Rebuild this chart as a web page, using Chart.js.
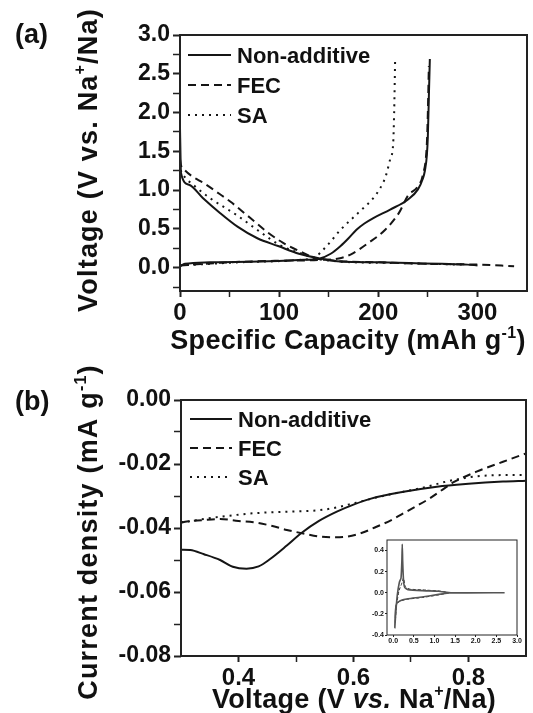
<!DOCTYPE html>
<html>
<head>
<meta charset="utf-8">
<script src="https://cdn.jsdelivr.net/npm/chart.js@4.4.1/dist/chart.umd.min.js"></script>
<style>
  html, body { margin: 0; padding: 0; background: #fff; }
  #wrap { position: relative; width: 533px; height: 713px; overflow: hidden; background: #fff; }
  canvas { position: absolute; left: 0; }
  #chartA { top: 0; }
  #chartB { top: 360px; }
  #inset { left: 355px; top: 530px; }
</style>
</head>
<body>
<div id="wrap">
  <canvas id="chartA" width="533" height="360"></canvas>
  <canvas id="chartB" width="533" height="353"></canvas>
  <canvas id="inset" width="175" height="118"></canvas>
</div>
<script>
// ---- (a) charge / discharge profiles: [capacity mAh/g, voltage V]
const naDischarge = [[0,1.80],[0.5,1.45],[1,1.22],[9,1.07],[23,0.90],[40,0.71],[58,0.53],[78,0.38],[99,0.28],[120,0.18],[141,0.12],[162,0.08],[200,0.07],[231,0.06],[264,0.05],[290,0.04],[300,0.03]];
const naCharge = [[0,0.02],[5,0.05],[30,0.07],[80,0.08],[120,0.10],[141,0.12],[152,0.18],[162,0.28],[170,0.38],[178,0.49],[186,0.57],[195,0.64],[212,0.75],[230,0.88],[240,1.01],[245,1.15],[247,1.25],[249,1.45],[250,1.70],[251,2.20],[252,2.69]];
const fecDischarge = [[0,1.40],[1,1.32],[4,1.27],[12,1.18],[24,1.09],[40,0.95],[51,0.85],[71,0.64],[88,0.46],[104,0.32],[121,0.21],[138,0.12],[155,0.09],[200,0.07],[250,0.05],[300,0.04],[337,0.02]];
const fecCharge = [[0,0.03],[50,0.07],[100,0.09],[140,0.10],[160,0.12],[172,0.17],[190,0.32],[207,0.49],[221,0.71],[230,0.93],[240,1.05],[245,1.20],[249,1.60],[250,2.00],[251,2.60]];
const saDischarge = [[0,1.35],[1,1.25],[3,1.20],[15,1.05],[30,0.90],[57,0.68],[81,0.46],[101,0.29],[125,0.17],[137,0.12],[160,0.08],[220,0.06],[285,0.04]];
const saCharge = [[0,0.03],[60,0.07],[120,0.10],[135,0.13],[148,0.28],[162,0.49],[180,0.71],[197,0.93],[205,1.10],[208,1.20],[212,1.40],[215,1.60],[216,2.00],[217,2.69]];

const capTicks = [0, 50, 100, 150, 200, 250, 300];
const capLabels = [0, 100, 200, 300];
const voltTicks = [-0.25, 0, 0.25, 0.5, 0.75, 1, 1.25, 1.5, 1.75, 2, 2.25, 2.5, 2.75, 3];
const voltLabels = [0, 0.5, 1, 1.5, 2, 2.5, 3];

// ---- (b) CV cathodic scan: [voltage V, current mA/g]
const naCv = [[0.30,-0.0468],[0.316,-0.0469],[0.34,-0.0482],[0.368,-0.0500],[0.39,-0.0521],[0.414,-0.0527],[0.435,-0.0520],[0.455,-0.0497],[0.484,-0.0455],[0.51,-0.0415],[0.54,-0.0378],[0.571,-0.0349],[0.60,-0.0327],[0.629,-0.0309],[0.687,-0.0287],[0.745,-0.0271],[0.80,-0.0262],[0.86,-0.0255],[0.90,-0.0252]];
const fecCv = [[0.30,-0.0383],[0.31,-0.0380],[0.34,-0.0375],[0.368,-0.0372],[0.40,-0.0378],[0.426,-0.0382],[0.455,-0.0392],[0.484,-0.0406],[0.515,-0.0418],[0.542,-0.0427],[0.565,-0.0429],[0.588,-0.0427],[0.615,-0.0415],[0.64,-0.0396],[0.665,-0.0376],[0.687,-0.0354],[0.71,-0.0331],[0.733,-0.0307],[0.755,-0.0280],[0.774,-0.0257],[0.814,-0.0224],[0.86,-0.0193],[0.90,-0.0167]];
const saCv = [[0.30,-0.0382],[0.31,-0.0380],[0.34,-0.0372],[0.368,-0.0365],[0.426,-0.0354],[0.484,-0.0349],[0.542,-0.0344],[0.57,-0.0336],[0.60,-0.0323],[0.658,-0.0297],[0.716,-0.0276],[0.774,-0.0250],[0.832,-0.0236],[0.90,-0.0234]];

const potTicks = [0.4, 0.5, 0.6, 0.7, 0.8];
const potLabels = [0.4, 0.6, 0.8];
const curTicks = [-0.08, -0.07, -0.06, -0.05, -0.04, -0.03, -0.02, -0.01, 0];
const curLabels = [-0.08, -0.06, -0.04, -0.02, 0];

// ---- inset: full CV loops
const insetNa = [[2.7,0.0],[1.4,0.0],[1.1,-0.015],[0.7,-0.04],[0.36,-0.057],[0.2,-0.07],[0.08,-0.10],[0.05,-0.20],[0.04,-0.33],[0.06,-0.20],[0.1,-0.02],[0.15,0.10],[0.19,0.14],[0.21,0.30],[0.22,0.46],[0.23,0.30],[0.25,0.12],[0.28,0.05],[0.36,0.03],[0.7,0.02],[1.1,0.015],[1.4,0.0],[2.7,0.0]];
const insetFec = [[1.35,0.0],[1.1,-0.02],[0.7,-0.045],[0.36,-0.06],[0.15,-0.08],[0.07,-0.12],[0.05,-0.28],[0.08,-0.12],[0.14,0.02],[0.2,0.08],[0.25,0.14],[0.29,0.06],[0.4,0.035],[0.8,0.025],[1.15,0.015],[1.35,0.0]];
const insetXTicks = [0, 0.5, 1, 1.5, 2, 2.5, 3];
const insetYTicks = [-0.4, -0.2, 0, 0.2, 0.4];

Chart.defaults.font.family = '"Liberation Sans", Arial, sans-serif';
Chart.defaults.font.weight = 'bold';
Chart.defaults.color = '#111';

const INK = '#151515';
const BOLD = '"Liberation Sans", Arial, sans-serif';

function pts(arr) {
  return arr.map(p => ({ x: p[0], y: p[1] }));
}
function joined(dis, chg) {
  return pts(dis).concat([{ x: dis[dis.length - 1][0], y: null }], pts(chg));
}

function axis(o) {
  return {
    type: 'linear',
    min: o.min,
    max: o.max,
    afterFit(s) {
      if (o.width !== undefined) s.width = o.width;
      if (o.height !== undefined) s.height = o.height;
    },
    afterBuildTicks(s) {
      s.ticks = o.ticks.map(v => ({ value: v }));
    },
    grid: {
      drawOnChartArea: false,
      tickLength: o.tickLength,
      tickColor: '#222',
      tickWidth: c => (o.labels.includes(c.tick && c.tick.value) ? o.tickWidth : o.tickWidth * 0.75)
    },
    border: { display: false },
    ticks: {
      autoSkip: false,
      maxRotation: 0,
      padding: o.padding,
      color: '#111',
      font: { size: o.size, weight: 'bold' },
      callback: v => (o.labels.includes(v) ? v.toFixed(o.digits) : '')
    }
  };
}

function drawRich(ctx, segs, cx, cy, rotate, spacing) {
  ctx.save();
  ctx.translate(cx, cy);
  if (rotate) ctx.rotate(-Math.PI / 2);
  ctx.textAlign = 'left';
  ctx.textBaseline = 'alphabetic';
  ctx.fillStyle = '#111';
  ctx.letterSpacing = (spacing || 0) + 'px';
  let total = 0;
  segs.forEach(s => { ctx.font = s.font; total += ctx.measureText(s.text).width; });
  let x = -total / 2;
  segs.forEach(s => {
    ctx.font = s.font;
    ctx.fillText(s.text, x, s.dy || 0);
    x += ctx.measureText(s.text).width;
  });
  ctx.restore();
}

// frame, titles, legend and panel letter
const framePlugin = {
  id: 'frame',
  afterDraw(chart, args, o) {
    const ctx = chart.ctx;
    const a = chart.chartArea;
    ctx.save();
    ctx.strokeStyle = '#222';
    ctx.lineWidth = o.boxWidth || 2;
    ctx.strokeRect(a.left, a.top, a.right - a.left, a.bottom - a.top);
    ctx.restore();
    if (o.yTitle) drawRich(ctx, o.yTitle, o.yTitleX, o.yTitleY, true, 1.2);
    if (o.xTitle) drawRich(ctx, o.xTitle, o.xTitleX, o.xTitleY, false, 0.3);
    if (o.panel) {
      ctx.save();
      ctx.font = 'bold 27px ' + BOLD;
      ctx.fillStyle = '#111';
      ctx.fillText(o.panel, 15, o.panelY);
      ctx.restore();
    }
    if (o.legend) {
      const L = o.legend;
      chart.data.datasets.forEach((ds, i) => {
        const y = L.y + i * L.dy;
        ctx.save();
        ctx.strokeStyle = ds.borderColor;
        ctx.lineWidth = ds.borderWidth;
        ctx.setLineDash(ds.borderDash || []);
        ctx.beginPath();
        ctx.moveTo(L.x1, y);
        ctx.lineTo(L.x2, y);
        ctx.stroke();
        ctx.setLineDash([]);
        ctx.font = 'bold 22px ' + BOLD;
        ctx.fillStyle = '#111';
        ctx.textBaseline = 'alphabetic';
        ctx.fillText(ds.label, L.tx, y + 8);
        ctx.restore();
      });
    }
  }
};

function series(label, data, dash) {
  return {
    label: label,
    data: data,
    borderColor: INK,
    borderWidth: 2,
    borderDash: dash,
    pointRadius: 0,
    cubicInterpolationMode: 'monotone',
    spanGaps: false,
    fill: false
  };
}

const F27 = 'bold 27px ' + BOLD;
const F16 = 'bold 16px ' + BOLD;

new Chart(document.getElementById('chartA'), {
  type: 'line',
  data: {
    datasets: [
      series('Non-additive', joined(naDischarge, naCharge), []),
      series('FEC', joined(fecDischarge, fecCharge), [8, 5]),
      series('SA', joined(saDischarge, saCharge), [2, 5])
    ]
  },
  plugins: [framePlugin],
  options: {
    responsive: false,
    devicePixelRatio: 1,
    animation: false,
    layout: { padding: { top: 35, right: 6, left: 0, bottom: 0 } },
    scales: {
      x: axis({ min: 0, max: 350, ticks: capTicks, labels: capLabels, digits: 0, height: 69, tickLength: 6, tickWidth: 2, padding: 2, size: 24 }),
      y: axis({ min: -0.3, max: 3.0, ticks: voltTicks, labels: voltLabels, digits: 1, width: 180, tickLength: 7, tickWidth: 2, padding: 3, size: 23 })
    },
    plugins: {
      legend: { display: false },
      tooltip: { enabled: false },
      frame: {
        yTitle: [
          { text: 'Voltage (V vs. Na', font: F27 },
          { text: '+', font: F16, dy: -12 },
          { text: '/Na)', font: F27 }
        ],
        yTitleX: 97, yTitleY: 160,
        xTitle: [
          { text: 'Specific Capacity (mAh g', font: F27 },
          { text: '-1', font: F16, dy: -11 },
          { text: ')', font: F27 }
        ],
        xTitleX: 348, xTitleY: 349,
        panel: '(a)', panelY: 43,
        legend: { x1: 188, x2: 231, tx: 237, y: 55, dy: 30 }
      }
    }
  }
});

new Chart(document.getElementById('chartB'), {
  type: 'line',
  data: {
    datasets: [
      series('Non-additive', pts(naCv), []),
      series('FEC', pts(fecCv), [8, 5]),
      series('SA', pts(saCv), [2, 5])
    ]
  },
  plugins: [framePlugin],
  options: {
    responsive: false,
    devicePixelRatio: 1,
    animation: false,
    layout: { padding: { top: 40, right: 7, left: 0, bottom: 0 } },
    scales: {
      x: axis({ min: 0.3, max: 0.9, ticks: potTicks, labels: potLabels, digits: 1, height: 57, tickLength: 6, tickWidth: 2, padding: 2, size: 24 }),
      y: axis({ min: -0.08, max: 0, ticks: curTicks, labels: curLabels, digits: 2, width: 181, tickLength: 7, tickWidth: 2, padding: 3, size: 23 })
    },
    plugins: {
      legend: { display: false },
      tooltip: { enabled: false },
      frame: {
        yTitle: [
          { text: 'Current density (mA g', font: F27 },
          { text: '-1', font: F16, dy: -11 },
          { text: ')', font: F27 }
        ],
        yTitleX: 97, yTitleY: 172,
        xTitle: [
          { text: 'Voltage (V ', font: F27 },
          { text: 'vs.', font: 'italic bold 27px ' + BOLD },
          { text: ' Na', font: F27 },
          { text: '+', font: F16, dy: -12 },
          { text: '/Na)', font: F27 }
        ],
        xTitleX: 354, xTitleY: 348,
        panel: '(b)', panelY: 50,
        legend: { x1: 190, x2: 232, tx: 238, y: 59, dy: 29 }
      }
    }
  }
});

new Chart(document.getElementById('inset'), {
  type: 'line',
  data: {
    datasets: [
      { label: 'Non-additive', data: pts(insetNa), borderColor: '#555', borderWidth: 1.6, pointRadius: 0, tension: 0.15, fill: false },
      { label: 'FEC', data: pts(insetFec), borderColor: '#222', borderWidth: 1, borderDash: [3, 2], pointRadius: 0, tension: 0.15, fill: false }
    ]
  },
  plugins: [framePlugin],
  options: {
    responsive: false,
    devicePixelRatio: 1,
    animation: false,
    layout: { padding: { top: 10, right: 13, left: 0, bottom: 0 } },
    scales: {
      x: axis({ min: -0.15, max: 3.0, ticks: insetXTicks, labels: insetXTicks, digits: 1, height: 13, tickLength: 2, tickWidth: 1, padding: 0, size: 7 }),
      y: axis({ min: -0.4, max: 0.5, ticks: insetYTicks, labels: insetYTicks, digits: 1, width: 32, tickLength: 2, tickWidth: 1, padding: 1, size: 7 })
    },
    plugins: {
      legend: { display: false },
      tooltip: { enabled: false },
      frame: { boxWidth: 1 }
    }
  }
});
</script>
</body>
</html>
